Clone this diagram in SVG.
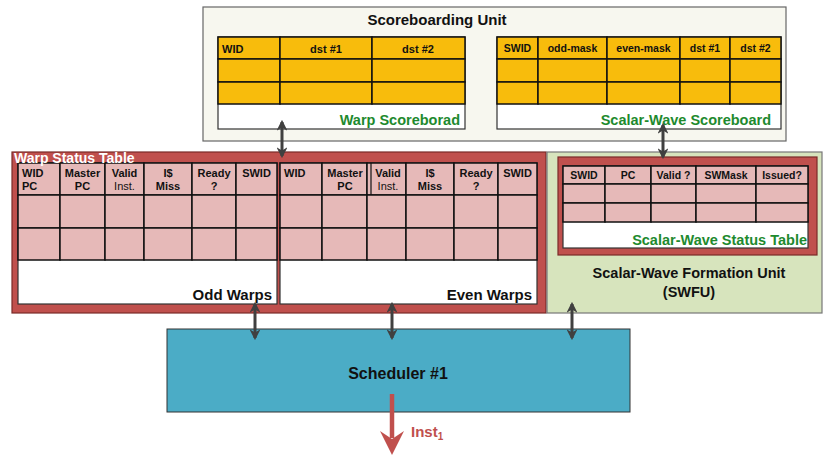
<svg xmlns="http://www.w3.org/2000/svg" width="824" height="459" viewBox="0 0 824 459">
  <defs>
    <marker id="ah" viewBox="0 0 10 10" refX="8" refY="5" markerWidth="3.6" markerHeight="3.6" orient="auto-start-reverse" markerUnits="strokeWidth">
      <path d="M0,0 L10,5 L0,10 L3,5 Z" fill="#404040"/>
    </marker>
  </defs>
  <style>
    text { font-family: "Liberation Sans", Arial, sans-serif; font-weight: bold; }
    .hd { font-size: 11px; fill: #111; }
    .hs { font-size: 10.5px; fill: #111; }
    .title { font-size: 14.5px; fill: #111; }
    .gt { font-size: 14.5px; fill: #1E8A2E; }
    .big { font-size: 15px; fill: #111; }
    .cellO { fill: #F8BC0C; stroke: #111; stroke-width: 1.5; }
    .cellP { fill: #E6B9B8; stroke: #111; stroke-width: 1.5; }
    .white { fill: #FFFFFF; stroke: #333; stroke-width: 1.2; }
    .redbox { fill: #C0504D; stroke: #7A2A28; stroke-width: 1.2; }
    .dbl { stroke: #404040; stroke-width: 3; fill: none; marker-start: url(#ah); marker-end: url(#ah); }
  </style>

  <!-- Scoreboarding unit -->
  <g id="scoreboarding-unit">
    <rect x="203" y="7" width="583" height="134" fill="#F7F7EF" stroke="#666" stroke-width="1.2"/>
    <text x="437" y="25" text-anchor="middle" style="font-size:15px; fill:#111;">Scoreboarding Unit</text>
  </g>

  <g id="warp-scoreboard">
    <rect class="white" x="218" y="37" width="247" height="92"/>
    <rect class="cellO" x="218" y="37" width="62" height="22"/>
    <rect class="cellO" x="280" y="37" width="92" height="22"/>
    <rect class="cellO" x="372" y="37" width="93" height="22"/>
    <rect class="cellO" x="218" y="59" width="62" height="23"/>
    <rect class="cellO" x="280" y="59" width="92" height="23"/>
    <rect class="cellO" x="372" y="59" width="93" height="23"/>
    <rect class="cellO" x="218" y="82" width="62" height="22"/>
    <rect class="cellO" x="280" y="82" width="92" height="22"/>
    <rect class="cellO" x="372" y="82" width="93" height="22"/>
    <text class="hd" x="222" y="53">WID</text>
    <text class="hd" x="326" y="53" text-anchor="middle">dst #1</text>
    <text class="hd" x="418" y="53" text-anchor="middle">dst #2</text>
    <text class="gt" x="460" y="125" text-anchor="end">Warp Scoreborad</text>
  </g>

  <g id="scalar-wave-scoreboard">
    <rect class="white" x="497" y="37" width="284" height="92"/>
    <g>
      <rect class="cellO" x="497" y="37" width="41" height="22"/>
      <rect class="cellO" x="538" y="37" width="69" height="22"/>
      <rect class="cellO" x="607" y="37" width="73" height="22"/>
      <rect class="cellO" x="680" y="37" width="50" height="22"/>
      <rect class="cellO" x="730" y="37" width="51" height="22"/>
      <rect class="cellO" x="497" y="59" width="41" height="23"/>
      <rect class="cellO" x="538" y="59" width="69" height="23"/>
      <rect class="cellO" x="607" y="59" width="73" height="23"/>
      <rect class="cellO" x="680" y="59" width="50" height="23"/>
      <rect class="cellO" x="730" y="59" width="51" height="23"/>
      <rect class="cellO" x="497" y="82" width="41" height="22"/>
      <rect class="cellO" x="538" y="82" width="69" height="22"/>
      <rect class="cellO" x="607" y="82" width="73" height="22"/>
      <rect class="cellO" x="680" y="82" width="50" height="22"/>
      <rect class="cellO" x="730" y="82" width="51" height="22"/>
    </g>
    <text class="hs" x="517.5" y="52" text-anchor="middle">SWID</text>
    <text class="hs" x="572.5" y="52" text-anchor="middle">odd-mask</text>
    <text class="hs" x="643.5" y="52" text-anchor="middle">even-mask</text>
    <text class="hs" x="705" y="52" text-anchor="middle">dst #1</text>
    <text class="hs" x="755.5" y="52" text-anchor="middle">dst #2</text>
    <text class="gt" x="771" y="125" text-anchor="end">Scalar-Wave Scoreboard</text>
  </g>

  <!-- Warp status table frame -->
  <g id="warp-status-table">
    <rect class="redbox" x="12" y="152" width="534" height="161"/>
  </g>

  <g id="odd-warps">
    <rect class="white" x="18" y="163" width="259" height="141"/>
    <g>
      <rect class="cellP" x="18" y="163" width="42" height="32"/>
      <rect class="cellP" x="60" y="163" width="45" height="32"/>
      <rect class="cellP" x="105" y="163" width="39" height="32"/>
      <rect class="cellP" x="144" y="163" width="48" height="32"/>
      <rect class="cellP" x="192" y="163" width="44" height="32"/>
      <rect class="cellP" x="236" y="163" width="41" height="32"/>
      <rect class="cellP" x="18" y="195" width="42" height="33"/>
      <rect class="cellP" x="60" y="195" width="45" height="33"/>
      <rect class="cellP" x="105" y="195" width="39" height="33"/>
      <rect class="cellP" x="144" y="195" width="48" height="33"/>
      <rect class="cellP" x="192" y="195" width="44" height="33"/>
      <rect class="cellP" x="236" y="195" width="41" height="33"/>
      <rect class="cellP" x="18" y="228" width="42" height="32"/>
      <rect class="cellP" x="60" y="228" width="45" height="32"/>
      <rect class="cellP" x="105" y="228" width="39" height="32"/>
      <rect class="cellP" x="144" y="228" width="48" height="32"/>
      <rect class="cellP" x="192" y="228" width="44" height="32"/>
      <rect class="cellP" x="236" y="228" width="41" height="32"/>
    </g>
    <text class="hd" x="22" y="177">WID</text>
    <text class="hd" x="22" y="190">PC</text>
    <text class="hd" x="82.5" y="177" text-anchor="middle">Master</text>
    <text class="hd" x="82.5" y="190" text-anchor="middle">PC</text>
    <text class="hd" x="124.5" y="177" text-anchor="middle">Valid</text>
    <text class="hd" x="124.5" y="190" text-anchor="middle" style="font-weight:normal">Inst.</text>
    <text class="hd" x="168" y="177" text-anchor="middle">I$</text>
    <text class="hd" x="168" y="190" text-anchor="middle">Miss</text>
    <text class="hd" x="214" y="177" text-anchor="middle">Ready</text>
    <text class="hd" x="214" y="190" text-anchor="middle">?</text>
    <text class="hd" x="256.5" y="177" text-anchor="middle">SWID</text>
    <text class="big" x="272" y="300" text-anchor="end">Odd Warps</text>
  </g>

  <g id="even-warps">
    <rect class="white" x="280" y="163" width="257" height="141"/>
    <g>
      <rect class="cellP" x="280" y="163" width="42" height="32"/>
      <rect class="cellP" x="322" y="163" width="45" height="32"/>
      <rect class="cellP" x="367" y="163" width="39" height="32"/>
      <rect class="cellP" x="406" y="163" width="48" height="32"/>
      <rect class="cellP" x="454" y="163" width="44" height="32"/>
      <rect class="cellP" x="498" y="163" width="39" height="32"/>
      <rect class="cellP" x="280" y="195" width="42" height="33"/>
      <rect class="cellP" x="322" y="195" width="45" height="33"/>
      <rect class="cellP" x="367" y="195" width="39" height="33"/>
      <rect class="cellP" x="406" y="195" width="48" height="33"/>
      <rect class="cellP" x="454" y="195" width="44" height="33"/>
      <rect class="cellP" x="498" y="195" width="39" height="33"/>
      <rect class="cellP" x="280" y="228" width="42" height="32"/>
      <rect class="cellP" x="322" y="228" width="45" height="32"/>
      <rect class="cellP" x="367" y="228" width="39" height="32"/>
      <rect class="cellP" x="406" y="228" width="48" height="32"/>
      <rect class="cellP" x="454" y="228" width="44" height="32"/>
      <rect class="cellP" x="498" y="228" width="39" height="32"/>
      <line x1="371" y1="163" x2="371" y2="195" stroke="#111" stroke-width="1.2"/>
    </g>
    <text class="hd" x="284" y="177">WID</text>
    <text class="hd" x="345" y="177" text-anchor="middle">Master</text>
    <text class="hd" x="345" y="190" text-anchor="middle">PC</text>
    <text class="hd" x="388" y="177" text-anchor="middle">Valid</text>
    <text class="hd" x="388" y="190" text-anchor="middle" style="font-weight:normal">Inst.</text>
    <text class="hd" x="430" y="177" text-anchor="middle">I$</text>
    <text class="hd" x="430" y="190" text-anchor="middle">Miss</text>
    <text class="hd" x="476" y="177" text-anchor="middle">Ready</text>
    <text class="hd" x="476" y="190" text-anchor="middle">?</text>
    <text class="hd" x="517.5" y="177" text-anchor="middle">SWID</text>
    <text class="big" x="532" y="300" text-anchor="end">Even Warps</text>
  </g>

  <!-- Warp status table caption, drawn over the table edge -->
  <g id="warp-status-table-label">
    <text x="14" y="163" style="font-size:14px; fill:#FFFFFF;">Warp Status Table</text>
  </g>

  <!-- Scalar-wave formation unit -->
  <g id="swfu">
    <rect x="547" y="152" width="275" height="161" fill="#D7E4BD" stroke="#777" stroke-width="1.2"/>
    <text class="title" x="689" y="278" text-anchor="middle">Scalar-Wave Formation Unit</text>
    <text class="title" x="689" y="297" text-anchor="middle">(SWFU)</text>
  </g>

  <g id="scalar-wave-status-table">
    <rect class="redbox" x="558" y="157" width="259" height="98"/>
    <rect class="white" x="563" y="166" width="245" height="82"/>
    <g>
      <rect class="cellP" x="563" y="166" width="42" height="18"/>
      <rect class="cellP" x="605" y="166" width="46" height="18"/>
      <rect class="cellP" x="651" y="166" width="45" height="18"/>
      <rect class="cellP" x="696" y="166" width="60" height="18"/>
      <rect class="cellP" x="756" y="166" width="52" height="18"/>
      <rect class="cellP" x="563" y="184" width="42" height="19"/>
      <rect class="cellP" x="605" y="184" width="46" height="19"/>
      <rect class="cellP" x="651" y="184" width="45" height="19"/>
      <rect class="cellP" x="696" y="184" width="60" height="19"/>
      <rect class="cellP" x="756" y="184" width="52" height="19"/>
      <rect class="cellP" x="563" y="203" width="42" height="19"/>
      <rect class="cellP" x="605" y="203" width="46" height="19"/>
      <rect class="cellP" x="651" y="203" width="45" height="19"/>
      <rect class="cellP" x="696" y="203" width="60" height="19"/>
      <rect class="cellP" x="756" y="203" width="52" height="19"/>
    </g>
    <text class="hs" x="584" y="179" text-anchor="middle">SWID</text>
    <text class="hs" x="628" y="179" text-anchor="middle">PC</text>
    <text class="hs" x="673.5" y="179" text-anchor="middle">Valid ?</text>
    <text class="hs" x="726" y="179" text-anchor="middle">SWMask</text>
    <text class="hs" x="782" y="179" text-anchor="middle">Issued?</text>
    <text class="gt" x="807" y="245" text-anchor="end">Scalar-Wave Status Table</text>
  </g>

  <!-- Scheduler -->
  <g id="scheduler">
    <rect x="167" y="329" width="463" height="83" fill="#4BACC6" stroke="#333" stroke-width="1"/>
    <text x="398" y="379" text-anchor="middle" style="font-size:16px; fill:#111;">Scheduler #1</text>
  </g>

  <!-- Connectors -->
  <g id="connectors">
    <line class="dbl" x1="282" y1="122" x2="282" y2="156"/>
    <line class="dbl" x1="663" y1="125" x2="663" y2="157"/>
    <line class="dbl" x1="255" y1="304" x2="255" y2="338"/>
    <line class="dbl" x1="392" y1="304" x2="392" y2="338"/>
    <line class="dbl" x1="572" y1="304" x2="572" y2="338"/>
    <line x1="392" y1="394" x2="392" y2="438" stroke="#C0504D" stroke-width="4.5"/>
    <path d="M380,431 L392,455 L404,431 L392,439 Z" fill="#C0504D"/>
    <text x="411" y="437" style="font-size:15px; fill:#C0504D;">Inst<tspan dy="3" style="font-size:10px;">1</tspan></text>
  </g>
</svg>
